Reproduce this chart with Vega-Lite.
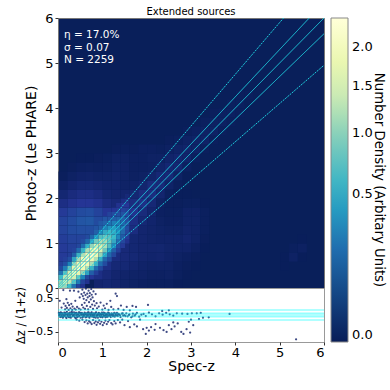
{"$schema":"https://vega.github.io/schema/vega-lite/v6.json","padding":{"left":14,"top":6,"right":0,"bottom":0},"background":"white","bounds":"flush","spacing":0,"config":{"font":"DejaVu Sans","view":{"stroke":null}},
"datasets":{
"coarse":[
{"x":0.9,"y":0.1,"d":0.005},{"x":1.1,"y":0.1,"d":0.007},{"x":1.3,"y":0.1,"d":0.005},{"x":1.5,"y":0.1,"d":0.0025},{"x":1.7,"y":0.1,"d":0.0015},{"x":1.9,"y":0.1,"d":0.0008},{"x":2.1,"y":0.1,"d":0.0005},{"x":2.3,"y":0.1,"d":0.0005},{"x":2.5,"y":0.1,"d":0.0005},{"x":2.7,"y":0.1,"d":0.0001},
{"x":0.9,"y":0.3,"d":0.02},{"x":1.1,"y":0.3,"d":0.011},{"x":1.3,"y":0.3,"d":0.005},{"x":1.5,"y":0.3,"d":0.0035},{"x":1.7,"y":0.3,"d":0.0025},{"x":1.9,"y":0.3,"d":0.002},{"x":2.1,"y":0.3,"d":0.001},{"x":2.3,"y":0.3,"d":0.001},{"x":2.5,"y":0.3,"d":0.0015},{"x":2.7,"y":0.3,"d":0.0005},{"x":2.9,"y":0.3,"d":0.0001},
{"x":0.9,"y":0.5,"d":0.06},{"x":1.1,"y":0.5,"d":0.02},{"x":1.3,"y":0.5,"d":0.009},{"x":1.5,"y":0.5,"d":0.008},{"x":1.7,"y":0.5,"d":0.005},{"x":1.9,"y":0.5,"d":0.003},{"x":2.1,"y":0.5,"d":0.002},{"x":2.3,"y":0.5,"d":0.0025},{"x":2.5,"y":0.5,"d":0.0025},{"x":2.7,"y":0.5,"d":0.0008},{"x":2.9,"y":0.5,"d":0.0003},{"x":3.1,"y":0.5,"d":0.0001},
{"x":0.1,"y":0.7,"d":0.05},{"x":1.1,"y":0.7,"d":0.06},{"x":1.3,"y":0.7,"d":0.016},{"x":1.5,"y":0.7,"d":0.011},{"x":1.7,"y":0.7,"d":0.008},{"x":1.9,"y":0.7,"d":0.005},{"x":2.1,"y":0.7,"d":0.004},{"x":2.3,"y":0.7,"d":0.005},{"x":2.5,"y":0.7,"d":0.003},{"x":2.7,"y":0.7,"d":0.0015},{"x":2.9,"y":0.7,"d":0.0008},{"x":3.1,"y":0.7,"d":0.0003},
{"x":0.1,"y":0.9,"d":0.05},{"x":0.3,"y":0.9,"d":0.06},{"x":1.3,"y":0.9,"d":0.04},{"x":1.5,"y":0.9,"d":0.011},{"x":1.7,"y":0.9,"d":0.007},{"x":1.9,"y":0.9,"d":0.005},{"x":2.1,"y":0.9,"d":0.005},{"x":2.3,"y":0.9,"d":0.0055},{"x":2.5,"y":0.9,"d":0.0035},{"x":2.7,"y":0.9,"d":0.003},{"x":2.9,"y":0.9,"d":0.003},{"x":3.1,"y":0.9,"d":0.001},{"x":3.3,"y":0.9,"d":0.0001},
{"x":0.1,"y":1.1,"d":0.055},{"x":0.3,"y":1.1,"d":0.07},{"x":0.5,"y":1.1,"d":0.07},{"x":1.5,"y":1.1,"d":0.02},{"x":1.7,"y":1.1,"d":0.007},{"x":1.9,"y":1.1,"d":0.005},{"x":2.1,"y":1.1,"d":0.0035},{"x":2.3,"y":1.1,"d":0.003},{"x":2.5,"y":1.1,"d":0.003},{"x":2.7,"y":1.1,"d":0.003},{"x":2.9,"y":1.1,"d":0.005},{"x":3.1,"y":1.1,"d":0.0025},{"x":3.3,"y":1.1,"d":0.0003},
{"x":0.1,"y":1.3,"d":0.07},{"x":0.3,"y":1.3,"d":0.09},{"x":0.5,"y":1.3,"d":0.1},{"x":0.7,"y":1.3,"d":0.1},{"x":1.7,"y":1.3,"d":0.016},{"x":1.9,"y":1.3,"d":0.005},{"x":2.1,"y":1.3,"d":0.0035},{"x":2.3,"y":1.3,"d":0.0025},{"x":2.5,"y":1.3,"d":0.0015},{"x":2.7,"y":1.3,"d":0.0015},{"x":2.9,"y":1.3,"d":0.0035},{"x":3.1,"y":1.3,"d":0.0025},{"x":3.3,"y":1.3,"d":0.0005},
{"x":0.1,"y":1.5,"d":0.07},{"x":0.3,"y":1.5,"d":0.09},{"x":0.5,"y":1.5,"d":0.12},{"x":0.7,"y":1.5,"d":0.13},{"x":0.9,"y":1.5,"d":0.09},{"x":1.7,"y":1.5,"d":0.02},{"x":1.9,"y":1.5,"d":0.008},{"x":2.1,"y":1.5,"d":0.004},{"x":2.3,"y":1.5,"d":0.0015},{"x":2.5,"y":1.5,"d":0.0008},{"x":2.7,"y":1.5,"d":0.0008},{"x":2.9,"y":1.5,"d":0.0025},{"x":3.1,"y":1.5,"d":0.0025},{"x":3.3,"y":1.5,"d":0.0005},
{"x":0.1,"y":1.7,"d":0.05},{"x":0.3,"y":1.7,"d":0.07},{"x":0.5,"y":1.7,"d":0.09},{"x":0.7,"y":1.7,"d":0.1},{"x":0.9,"y":1.7,"d":0.07},{"x":1.1,"y":1.7,"d":0.04},{"x":1.7,"y":1.7,"d":0.03},{"x":1.9,"y":1.7,"d":0.013},{"x":2.1,"y":1.7,"d":0.005},{"x":2.3,"y":1.7,"d":0.0008},{"x":2.5,"y":1.7,"d":0.0005},{"x":2.7,"y":1.7,"d":0.0005},{"x":2.9,"y":1.7,"d":0.002},{"x":3.1,"y":1.7,"d":0.002},{"x":3.3,"y":1.7,"d":0.0005},
{"x":0.1,"y":1.9,"d":0.02},{"x":0.3,"y":1.9,"d":0.03},{"x":0.5,"y":1.9,"d":0.04},{"x":0.7,"y":1.9,"d":0.04},{"x":0.9,"y":1.9,"d":0.03},{"x":1.1,"y":1.9,"d":0.016},{"x":1.3,"y":1.9,"d":0.011},{"x":1.7,"y":1.9,"d":0.016},{"x":1.9,"y":1.9,"d":0.022},{"x":2.1,"y":1.9,"d":0.009},{"x":2.3,"y":1.9,"d":0.0015},{"x":2.5,"y":1.9,"d":0.0003},{"x":2.7,"y":1.9,"d":0.0003},{"x":2.9,"y":1.9,"d":0.0005},{"x":3.1,"y":1.9,"d":0.0005},{"x":3.3,"y":1.9,"d":0.0001},
{"x":0.1,"y":2.1,"d":0.007},{"x":0.3,"y":2.1,"d":0.014},{"x":0.5,"y":2.1,"d":0.02},{"x":0.7,"y":2.1,"d":0.02},{"x":0.9,"y":2.1,"d":0.014},{"x":1.1,"y":2.1,"d":0.007},{"x":1.3,"y":2.1,"d":0.005},{"x":1.5,"y":2.1,"d":0.005},{"x":1.7,"y":2.1,"d":0.007},{"x":1.9,"y":2.1,"d":0.016},{"x":2.1,"y":2.1,"d":0.016},{"x":2.3,"y":2.1,"d":0.005},{"x":2.5,"y":2.1,"d":0.0005},{"x":2.7,"y":2.1,"d":0.0001},{"x":2.9,"y":2.1,"d":0.0001},
{"x":0.1,"y":2.3,"d":0.002},{"x":0.3,"y":2.3,"d":0.005},{"x":0.5,"y":2.3,"d":0.008},{"x":0.7,"y":2.3,"d":0.008},{"x":0.9,"y":2.3,"d":0.006},{"x":1.1,"y":2.3,"d":0.004},{"x":1.3,"y":2.3,"d":0.004},{"x":1.5,"y":2.3,"d":0.0025},{"x":1.7,"y":2.3,"d":0.0025},{"x":1.9,"y":2.3,"d":0.005},{"x":2.1,"y":2.3,"d":0.013},{"x":2.3,"y":2.3,"d":0.011},{"x":2.5,"y":2.3,"d":0.0025},{"x":2.7,"y":2.3,"d":0.0003},
{"x":0.1,"y":2.5,"d":0.0003},{"x":0.3,"y":2.5,"d":0.0015},{"x":0.5,"y":2.5,"d":0.003},{"x":0.7,"y":2.5,"d":0.0035},{"x":0.9,"y":2.5,"d":0.0025},{"x":1.1,"y":2.5,"d":0.0025},{"x":1.3,"y":2.5,"d":0.0035},{"x":1.5,"y":2.5,"d":0.0025},{"x":1.7,"y":2.5,"d":0.001},{"x":1.9,"y":2.5,"d":0.0015},{"x":2.1,"y":2.5,"d":0.0035},{"x":2.3,"y":2.5,"d":0.009},{"x":2.5,"y":2.5,"d":0.009},{"x":2.7,"y":2.5,"d":0.0015},{"x":2.9,"y":2.5,"d":0.0001},
{"x":0.3,"y":2.7,"d":0.0003},{"x":0.5,"y":2.7,"d":0.0008},{"x":0.7,"y":2.7,"d":0.001},{"x":0.9,"y":2.7,"d":0.0008},{"x":1.1,"y":2.7,"d":0.001},{"x":1.3,"y":2.7,"d":0.0025},{"x":1.5,"y":2.7,"d":0.002},{"x":1.7,"y":2.7,"d":0.0008},{"x":1.9,"y":2.7,"d":0.0008},{"x":2.1,"y":2.7,"d":0.001},{"x":2.3,"y":2.7,"d":0.0035},{"x":2.5,"y":2.7,"d":0.007},{"x":2.7,"y":2.7,"d":0.006},{"x":2.9,"y":2.7,"d":0.0008},
{"x":0.5,"y":2.9,"d":0.0001},{"x":0.7,"y":2.9,"d":0.0001},{"x":0.9,"y":2.9,"d":0.0003},{"x":1.1,"y":2.9,"d":0.0005},{"x":1.3,"y":2.9,"d":0.0015},{"x":1.5,"y":2.9,"d":0.0015},{"x":1.7,"y":2.9,"d":0.0008},{"x":1.9,"y":2.9,"d":0.0008},{"x":2.1,"y":2.9,"d":0.0015},{"x":2.3,"y":2.9,"d":0.0015},{"x":2.5,"y":2.9,"d":0.0035},{"x":2.7,"y":2.9,"d":0.005},{"x":2.9,"y":2.9,"d":0.0035},{"x":3.1,"y":2.9,"d":0.0005},
{"x":1.3,"y":3.1,"d":0.0003},{"x":1.5,"y":3.1,"d":0.0005},{"x":1.7,"y":3.1,"d":0.0003},{"x":1.9,"y":3.1,"d":0.0008},{"x":2.1,"y":3.1,"d":0.0008},{"x":2.3,"y":3.1,"d":0.0005},{"x":2.5,"y":3.1,"d":0.001},{"x":2.7,"y":3.1,"d":0.0025},{"x":2.9,"y":3.1,"d":0.0035},{"x":3.1,"y":3.1,"d":0.0025},{"x":3.3,"y":3.1,"d":0.0003},
{"x":2.5,"y":3.3,"d":0.0003},{"x":2.7,"y":3.3,"d":0.0005},{"x":2.9,"y":3.3,"d":0.0015},{"x":3.1,"y":3.3,"d":0.0025},{"x":3.3,"y":3.3,"d":0.002},{"x":3.5,"y":3.3,"d":0.0003},
{"x":2.9,"y":3.5,"d":0.0003},{"x":3.1,"y":3.5,"d":0.0008},{"x":3.3,"y":3.5,"d":0.0015},{"x":3.5,"y":3.5,"d":0.0015},{"x":3.7,"y":3.5,"d":0.0003},
{"x":3.3,"y":3.7,"d":0.0005},{"x":3.5,"y":3.7,"d":0.001},{"x":3.7,"y":3.7,"d":0.001},{"x":3.9,"y":3.7,"d":0.0003},
{"x":3.5,"y":3.9,"d":0.0003},{"x":3.7,"y":3.9,"d":0.0008},{"x":3.9,"y":3.9,"d":0.0008},{"x":4.1,"y":3.9,"d":0.0003},{"x":3.9,"y":4.1,"d":0.0005},{"x":4.1,"y":4.1,"d":0.0005},{"x":4.1,"y":4.3,"d":0.0003},{"x":4.3,"y":4.3,"d":0.0003},
{"x":5.1,"y":0.5,"d":0.0001},{"x":5.1,"y":0.7,"d":0.0001},{"x":5.3,"y":0.7,"d":0.0015},{"x":5.5,"y":0.7,"d":0.0001},{"x":5.3,"y":0.9,"d":0.0005},{"x":5.5,"y":0.9,"d":0.001},{"x":5.5,"y":1.1,"d":0.0001}
],
"fine":[
{"x":0.05,"y":0.05,"d":1.2},{"x":0.05,"y":0.15,"d":1.08},{"x":0.05,"y":0.25,"d":0.62},{"x":0.05,"y":0.35,"d":0.22},{"x":0.05,"y":0.45,"d":0.09},{"x":0.05,"y":0.55,"d":0.06},
{"x":0.15,"y":0.05,"d":1.08},{"x":0.15,"y":0.15,"d":1.5},{"x":0.15,"y":0.25,"d":1.3},{"x":0.15,"y":0.35,"d":0.74},{"x":0.15,"y":0.45,"d":0.26},{"x":0.15,"y":0.55,"d":0.1},{"x":0.15,"y":0.65,"d":0.06},
{"x":0.25,"y":0.05,"d":0.62},{"x":0.25,"y":0.15,"d":1.3},{"x":0.25,"y":0.25,"d":1.8},{"x":0.25,"y":0.35,"d":1.5},{"x":0.25,"y":0.45,"d":0.82},{"x":0.25,"y":0.55,"d":0.28},{"x":0.25,"y":0.65,"d":0.1},{"x":0.25,"y":0.75,"d":0.06},
{"x":0.35,"y":0.05,"d":0.22},{"x":0.35,"y":0.15,"d":0.74},{"x":0.35,"y":0.25,"d":1.5},{"x":0.35,"y":0.35,"d":2.0},{"x":0.35,"y":0.45,"d":1.72},{"x":0.35,"y":0.55,"d":1.07},{"x":0.35,"y":0.65,"d":0.46},{"x":0.35,"y":0.75,"d":0.15},{"x":0.35,"y":0.85,"d":0.07},
{"x":0.45,"y":0.05,"d":0.07},{"x":0.45,"y":0.15,"d":0.26},{"x":0.45,"y":0.25,"d":0.82},{"x":0.45,"y":0.35,"d":1.72},{"x":0.45,"y":0.45,"d":2.15},{"x":0.45,"y":0.55,"d":1.9},{"x":0.45,"y":0.65,"d":1.19},{"x":0.45,"y":0.75,"d":0.56},{"x":0.45,"y":0.85,"d":0.19},{"x":0.45,"y":0.95,"d":0.08},
{"x":0.55,"y":0.05,"d":0.03},{"x":0.55,"y":0.15,"d":0.07},{"x":0.55,"y":0.25,"d":0.28},{"x":0.55,"y":0.35,"d":1.07},{"x":0.55,"y":0.45,"d":1.9},{"x":0.55,"y":0.55,"d":2.2},{"x":0.55,"y":0.65,"d":1.92},{"x":0.55,"y":0.75,"d":1.2},{"x":0.55,"y":0.85,"d":0.56},{"x":0.55,"y":0.95,"d":0.2},{"x":0.55,"y":1.05,"d":0.09},
{"x":0.65,"y":0.15,"d":0.03},{"x":0.65,"y":0.25,"d":0.08},{"x":0.65,"y":0.35,"d":0.46},{"x":0.65,"y":0.45,"d":1.19},{"x":0.65,"y":0.55,"d":1.92},{"x":0.65,"y":0.65,"d":2.25},{"x":0.65,"y":0.75,"d":1.93},{"x":0.65,"y":0.85,"d":1.2},{"x":0.65,"y":0.95,"d":0.53},{"x":0.65,"y":1.05,"d":0.18},{"x":0.65,"y":1.15,"d":0.09},
{"x":0.75,"y":0.25,"d":0.04},{"x":0.75,"y":0.35,"d":0.15},{"x":0.75,"y":0.45,"d":0.56},{"x":0.75,"y":0.55,"d":1.2},{"x":0.75,"y":0.65,"d":1.93},{"x":0.75,"y":0.75,"d":2.25},{"x":0.75,"y":0.85,"d":1.85},{"x":0.75,"y":0.95,"d":1.05},{"x":0.75,"y":1.05,"d":0.45},{"x":0.75,"y":1.15,"d":0.18},{"x":0.75,"y":1.25,"d":0.1},
{"x":0.85,"y":0.35,"d":0.06},{"x":0.85,"y":0.45,"d":0.19},{"x":0.85,"y":0.55,"d":0.56},{"x":0.85,"y":0.65,"d":1.2},{"x":0.85,"y":0.75,"d":1.85},{"x":0.85,"y":0.85,"d":2.05},{"x":0.85,"y":0.95,"d":1.55},{"x":0.85,"y":1.05,"d":0.85},{"x":0.85,"y":1.15,"d":0.38},{"x":0.85,"y":1.25,"d":0.16},{"x":0.85,"y":1.35,"d":0.12},
{"x":0.95,"y":0.45,"d":0.08},{"x":0.95,"y":0.55,"d":0.2},{"x":0.95,"y":0.65,"d":0.53},{"x":0.95,"y":0.75,"d":1.05},{"x":0.95,"y":0.85,"d":1.55},{"x":0.95,"y":0.95,"d":1.6},{"x":0.95,"y":1.05,"d":1.2},{"x":0.95,"y":1.15,"d":0.7},{"x":0.95,"y":1.25,"d":0.32},{"x":0.95,"y":1.35,"d":0.16},{"x":0.95,"y":1.45,"d":0.13},
{"x":1.05,"y":0.55,"d":0.09},{"x":1.05,"y":0.65,"d":0.18},{"x":1.05,"y":0.75,"d":0.45},{"x":1.05,"y":0.85,"d":0.85},{"x":1.05,"y":0.95,"d":1.2},{"x":1.05,"y":1.05,"d":1.15},{"x":1.05,"y":1.15,"d":0.86},{"x":1.05,"y":1.25,"d":0.5},{"x":1.05,"y":1.35,"d":0.27},{"x":1.05,"y":1.45,"d":0.16},{"x":1.05,"y":1.55,"d":0.12},
{"x":1.15,"y":0.65,"d":0.09},{"x":1.15,"y":0.75,"d":0.18},{"x":1.15,"y":0.85,"d":0.38},{"x":1.15,"y":0.95,"d":0.7},{"x":1.15,"y":1.05,"d":0.86},{"x":1.15,"y":1.15,"d":0.8},{"x":1.15,"y":1.25,"d":0.6},{"x":1.15,"y":1.35,"d":0.37},{"x":1.15,"y":1.45,"d":0.21},{"x":1.15,"y":1.55,"d":0.11},{"x":1.15,"y":1.65,"d":0.07},
{"x":1.25,"y":0.75,"d":0.08},{"x":1.25,"y":0.85,"d":0.16},{"x":1.25,"y":0.95,"d":0.32},{"x":1.25,"y":1.05,"d":0.5},{"x":1.25,"y":1.15,"d":0.6},{"x":1.25,"y":1.25,"d":0.5},{"x":1.25,"y":1.35,"d":0.4},{"x":1.25,"y":1.45,"d":0.26},{"x":1.25,"y":1.55,"d":0.15},{"x":1.25,"y":1.65,"d":0.09},{"x":1.25,"y":1.75,"d":0.04},
{"x":1.35,"y":0.85,"d":0.06},{"x":1.35,"y":0.95,"d":0.1},{"x":1.35,"y":1.05,"d":0.2},{"x":1.35,"y":1.15,"d":0.3},{"x":1.35,"y":1.25,"d":0.34},{"x":1.35,"y":1.35,"d":0.3},{"x":1.35,"y":1.45,"d":0.25},{"x":1.35,"y":1.55,"d":0.17},{"x":1.35,"y":1.65,"d":0.1},{"x":1.35,"y":1.75,"d":0.06},{"x":1.35,"y":1.85,"d":0.03},
{"x":1.45,"y":0.95,"d":0.05},{"x":1.45,"y":1.05,"d":0.08},{"x":1.45,"y":1.15,"d":0.13},{"x":1.45,"y":1.25,"d":0.18},{"x":1.45,"y":1.35,"d":0.2},{"x":1.45,"y":1.45,"d":0.18},{"x":1.45,"y":1.55,"d":0.16},{"x":1.45,"y":1.65,"d":0.11},{"x":1.45,"y":1.75,"d":0.07},{"x":1.45,"y":1.85,"d":0.04},{"x":1.45,"y":1.95,"d":0.02},
{"x":1.55,"y":1.05,"d":0.03},{"x":1.55,"y":1.15,"d":0.05},{"x":1.55,"y":1.25,"d":0.08},{"x":1.55,"y":1.35,"d":0.1},{"x":1.55,"y":1.45,"d":0.11},{"x":1.55,"y":1.55,"d":0.1},{"x":1.55,"y":1.65,"d":0.085},{"x":1.55,"y":1.75,"d":0.06},{"x":1.55,"y":1.85,"d":0.04},{"x":1.55,"y":1.95,"d":0.025},{"x":1.55,"y":2.05,"d":0.01}
],
"lines":[
{"k":"c","t":"s","a":0,"b":0},{"k":"c","t":"s","a":6,"b":6},
{"k":"u1","t":"s","a":0,"b":0.05},{"k":"u1","t":"s","a":5.667,"b":6},
{"k":"l1","t":"s","a":0,"b":-0.05},{"k":"l1","t":"s","a":6,"b":5.65},
{"k":"u2","t":"d","a":0,"b":0.15},{"k":"u2","t":"d","a":5.087,"b":6},
{"k":"l2","t":"d","a":0,"b":-0.15},{"k":"l2","t":"d","a":6,"b":4.95}
],
"stats":[{"a":0.135,"b":5.62,"label":"η = 17.0%"},{"a":0.135,"b":5.34,"label":"σ = 0.07"},{"a":0.135,"b":5.07,"label":"N = 2259"}],
"bands":[{"k":"a","a":0,"r":0.15},{"k":"a","a":6,"r":0.15},{"k":"b","a":0,"r":0.05},{"k":"b","a":6,"r":0.05},{"k":"c","a":0,"r":0},{"k":"c","a":6,"r":0},{"k":"d","a":0,"r":-0.05},{"k":"d","a":6,"r":-0.05},{"k":"e","a":0,"r":-0.15},{"k":"e","a":6,"r":-0.15}],
"resid":[
{"z":0.02,"r":0.06},{"z":0.03,"r":-0.02},{"z":0.04,"r":0.03},{"z":0.05,"r":-0.06},{"z":0.06,"r":0.08},{"z":0.07,"r":0.0},{"z":0.09,"r":-0.04},{"z":0.1,"r":0.05},{"z":0.11,"r":-0.08},{"z":0.13,"r":0.02},{"z":0.14,"r":0.07},{"z":0.15,"r":-0.03},{"z":0.17,"r":0.04},{"z":0.18,"r":-0.06},{"z":0.2,"r":0.09},{"z":0.21,"r":0.0},{"z":0.23,"r":-0.05},{"z":0.24,"r":0.05},{"z":0.26,"r":-0.02},{"z":0.27,"r":0.07},{"z":0.29,"r":-0.08},{"z":0.3,"r":0.02},{"z":0.32,"r":0.06},{"z":0.33,"r":-0.04},{"z":0.35,"r":0.01},{"z":0.36,"r":0.08},{"z":0.38,"r":-0.07},{"z":0.39,"r":0.04},{"z":0.41,"r":-0.01},{"z":0.42,"r":0.06},{"z":0.44,"r":-0.05},{"z":0.45,"r":0.02},{"z":0.47,"r":0.08},{"z":0.48,"r":-0.03},{"z":0.5,"r":0.05},{"z":0.51,"r":-0.08},{"z":0.53,"r":0.0},{"z":0.54,"r":0.06},{"z":0.56,"r":-0.05},{"z":0.57,"r":0.03},{"z":0.59,"r":-0.02},{"z":0.6,"r":0.07},{"z":0.62,"r":-0.07},{"z":0.63,"r":0.02},{"z":0.65,"r":0.05},{"z":0.66,"r":-0.04},{"z":0.68,"r":0.0},{"z":0.69,"r":0.08},{"z":0.71,"r":-0.08},{"z":0.72,"r":0.03},{"z":0.74,"r":-0.02},{"z":0.75,"r":0.06},{"z":0.77,"r":-0.05},{"z":0.78,"r":0.01},{"z":0.8,"r":0.05},{"z":0.81,"r":-0.07},{"z":0.83,"r":-0.01},{"z":0.84,"r":0.04},{"z":0.86,"r":0.08},{"z":0.87,"r":-0.04},{"z":0.89,"r":0.02},{"z":0.9,"r":-0.08},{"z":0.92,"r":0.06},{"z":0.93,"r":-0.02},{"z":0.95,"r":0.03},{"z":0.96,"r":-0.06},{"z":0.98,"r":0.0},{"z":0.99,"r":0.07},{"z":1.01,"r":-0.05},{"z":1.02,"r":0.02},{"z":1.04,"r":-0.03},{"z":1.05,"r":0.05},{"z":1.07,"r":-0.07},{"z":1.08,"r":0.0},{"z":1.1,"r":0.04},{"z":1.11,"r":-0.04},{"z":1.13,"r":0.07},{"z":1.15,"r":-0.02},{"z":1.17,"r":0.02},{"z":1.19,"r":-0.06},{"z":1.21,"r":0.05},{"z":1.23,"r":-0.01},{"z":1.25,"r":0.03},{"z":1.28,"r":-0.05},{"z":1.3,"r":0.01},{"z":1.33,"r":0.06},{"z":1.35,"r":-0.03},{"z":1.38,"r":0.02},{"z":1.41,"r":-0.06},{"z":1.44,"r":0.04},{"z":1.47,"r":-0.02},{"z":1.5,"r":0.0},{"z":1.54,"r":0.05},{"z":1.57,"r":-0.04},{"z":1.61,"r":0.02},{"z":1.65,"r":-0.07},{"z":1.69,"r":0.04},{"z":1.73,"r":-0.02},{"z":1.78,"r":0.06},{"z":1.83,"r":-0.05},{"z":1.88,"r":0.01},{"z":1.93,"r":0.03},{"z":1.98,"r":-0.03},{"z":2.05,"r":0.07},{"z":2.12,"r":0.02},{"z":2.2,"r":-0.04},{"z":2.28,"r":0.05},{"z":2.36,"r":0.01},{"z":2.44,"r":0.06},{"z":2.52,"r":0.02},{"z":2.6,"r":-0.02},{"z":2.68,"r":0.05},{"z":2.8,"r":0.04},{"z":2.92,"r":0.03},{"z":3.02,"r":0.05},{"z":3.13,"r":0.05},{"z":3.22,"r":0.06},{"z":3.18,"r":-0.12},{"z":3.27,"r":-0.08},{"z":3.4,"r":-0.07},{"z":3.87,"r":0.03},{"z":5.37,"r":-0.72},
{"z":0.03,"r":0.01},{"z":0.08,"r":0.06},{"z":0.12,"r":-0.05},{"z":0.16,"r":0.0},{"z":0.19,"r":-0.09},{"z":0.22,"r":0.03},{"z":0.25,"r":-0.07},{"z":0.28,"r":0.01},{"z":0.31,"r":0.09},{"z":0.34,"r":-0.02},{"z":0.37,"r":0.03},{"z":0.4,"r":-0.09},{"z":0.43,"r":0.01},{"z":0.46,"r":-0.04},{"z":0.49,"r":0.07},{"z":0.52,"r":0.03},{"z":0.55,"r":-0.07},{"z":0.58,"r":0.01},{"z":0.61,"r":0.05},{"z":0.64,"r":-0.02},{"z":0.67,"r":0.07},{"z":0.7,"r":-0.05},{"z":0.73,"r":0.01},{"z":0.76,"r":0.08},{"z":0.79,"r":-0.03},{"z":0.82,"r":0.03},{"z":0.85,"r":-0.08},{"z":0.88,"r":0.0},{"z":0.91,"r":0.05},{"z":0.94,"r":-0.04},{"z":0.97,"r":0.02},{"z":1.0,"r":-0.07},{"z":1.03,"r":0.07},{"z":1.06,"r":-0.02},{"z":1.09,"r":0.02},{"z":1.12,"r":-0.05},{"z":1.16,"r":0.04},{"z":1.2,"r":0.0},{"z":1.24,"r":-0.04},{"z":1.27,"r":0.06},{"z":1.31,"r":-0.02},{"z":1.36,"r":0.03},{"z":1.4,"r":-0.01},{"z":1.46,"r":0.05},{"z":1.52,"r":-0.03},{"z":1.6,"r":0.0},{"z":1.68,"r":-0.04},{"z":1.75,"r":0.02},
{"z":0.04,"r":0.05},{"z":0.07,"r":-0.05},{"z":0.1,"r":0.01},{"z":0.13,"r":-0.03},{"z":0.16,"r":0.06},{"z":0.19,"r":0.02},{"z":0.22,"r":-0.03},{"z":0.25,"r":0.03},{"z":0.28,"r":-0.05},{"z":0.31,"r":0.04},{"z":0.34,"r":0.0},{"z":0.37,"r":-0.03},{"z":0.4,"r":0.06},{"z":0.43,"r":-0.06},{"z":0.46,"r":0.03},{"z":0.49,"r":-0.01},{"z":0.52,"r":0.05},{"z":0.55,"r":0.01},{"z":0.58,"r":-0.04},{"z":0.61,"r":0.03},{"z":0.64,"r":-0.06},{"z":0.67,"r":0.01},{"z":0.7,"r":0.05},{"z":0.73,"r":-0.03},{"z":0.76,"r":0.03},{"z":0.79,"r":0.0},{"z":0.82,"r":-0.05},{"z":0.85,"r":0.06},{"z":0.88,"r":-0.02},{"z":0.91,"r":0.02},{"z":0.94,"r":0.04},{"z":0.97,"r":-0.04},{"z":1.0,"r":0.03},{"z":1.03,"r":-0.01},{"z":1.06,"r":0.05},{"z":1.09,"r":-0.05},{"z":1.12,"r":0.01},{"z":1.15,"r":0.05},{"z":1.18,"r":-0.03},{"z":1.22,"r":0.02},{"z":1.26,"r":-0.02},{"z":1.3,"r":0.04},{"z":1.34,"r":0.0},
{"z":0.04,"r":0.42},{"z":0.08,"r":0.22},{"z":0.12,"r":0.74},{"z":0.13,"r":0.34},{"z":0.16,"r":0.17},{"z":0.17,"r":0.27},{"z":0.19,"r":0.47},{"z":0.2,"r":0.21},{"z":0.22,"r":0.36},{"z":0.24,"r":0.15},{"z":0.25,"r":0.29},{"z":0.27,"r":0.72},{"z":0.28,"r":0.2},{"z":0.3,"r":0.33},{"z":0.32,"r":0.15},{"z":0.33,"r":0.25},{"z":0.36,"r":0.72},{"z":0.37,"r":0.19},{"z":0.39,"r":0.42},{"z":0.4,"r":0.16},{"z":0.43,"r":0.24},{"z":0.46,"r":0.69},{"z":0.47,"r":0.19},{"z":0.49,"r":0.52},{"z":0.51,"r":0.16},{"z":0.53,"r":0.62},{"z":0.54,"r":0.3},{"z":0.55,"r":0.75},{"z":0.56,"r":0.56},{"z":0.57,"r":0.22},{"z":0.58,"r":0.48},{"z":0.59,"r":0.66},{"z":0.6,"r":0.36},{"z":0.61,"r":0.18},{"z":0.62,"r":0.59},{"z":0.63,"r":0.78},{"z":0.64,"r":0.44},{"z":0.65,"r":0.27},{"z":0.66,"r":0.63},{"z":0.67,"r":0.52},{"z":0.68,"r":0.17},{"z":0.69,"r":0.72},{"z":0.7,"r":0.38},{"z":0.71,"r":0.56},{"z":0.72,"r":0.65},{"z":0.73,"r":0.24},{"z":0.74,"r":0.46},{"z":0.75,"r":0.77},{"z":0.76,"r":0.6},{"z":0.77,"r":0.31},{"z":0.78,"r":0.52},{"z":0.79,"r":0.18},{"z":0.8,"r":0.7},{"z":0.81,"r":0.41},{"z":0.83,"r":0.28},{"z":0.85,"r":0.62},{"z":0.87,"r":0.35},{"z":0.88,"r":0.2},{"z":0.92,"r":0.25},{"z":0.96,"r":0.37},{"z":1.0,"r":0.16},{"z":1.03,"r":0.28},{"z":1.06,"r":0.2},{"z":1.1,"r":0.33},{"z":1.14,"r":0.15},{"z":1.18,"r":0.42},{"z":1.2,"r":0.24},{"z":1.25,"r":0.17},{"z":1.3,"r":0.63},{"z":1.33,"r":0.56},{"z":1.36,"r":0.18},{"z":1.42,"r":0.28},{"z":1.48,"r":0.15},{"z":1.55,"r":0.24},{"z":1.62,"r":0.14},{"z":1.68,"r":0.27},{"z":1.76,"r":0.24},{"z":2.03,"r":0.3},{"z":2.35,"r":0.12},{"z":2.5,"r":0.14},
{"z":0.42,"r":-0.14},{"z":0.48,"r":-0.17},{"z":0.55,"r":-0.14},{"z":0.6,"r":-0.21},{"z":0.64,"r":-0.16},{"z":0.67,"r":-0.25},{"z":0.7,"r":-0.18},{"z":0.73,"r":-0.22},{"z":0.76,"r":-0.27},{"z":0.79,"r":-0.15},{"z":0.82,"r":-0.24},{"z":0.85,"r":-0.19},{"z":0.87,"r":-0.29},{"z":0.9,"r":-0.22},{"z":0.93,"r":-0.16},{"z":0.95,"r":-0.26},{"z":0.98,"r":-0.2},{"z":1.01,"r":-0.3},{"z":1.04,"r":-0.23},{"z":1.07,"r":-0.17},{"z":1.1,"r":-0.27},{"z":1.13,"r":-0.2},{"z":1.16,"r":-0.15},{"z":1.2,"r":-0.24},{"z":1.23,"r":-0.28},{"z":1.27,"r":-0.18},{"z":1.3,"r":-0.25},{"z":1.35,"r":-0.15},{"z":1.4,"r":-0.22},{"z":1.45,"r":-0.14},{"z":1.5,"r":-0.3},{"z":1.58,"r":-0.18},{"z":1.62,"r":-0.36},{"z":1.72,"r":-0.28},{"z":1.78,"r":-0.34},{"z":1.85,"r":-0.14},{"z":1.92,"r":-0.42},{"z":1.98,"r":-0.56},{"z":2.0,"r":-0.38},{"z":2.05,"r":-0.46},{"z":2.1,"r":-0.36},{"z":2.18,"r":-0.44},{"z":2.2,"r":-0.27},{"z":2.3,"r":-0.38},{"z":2.38,"r":-0.45},{"z":2.45,"r":-0.5},{"z":2.5,"r":-0.3},{"z":2.56,"r":-0.42},{"z":2.6,"r":-0.22},{"z":2.63,"r":-0.34},{"z":2.7,"r":-0.25},{"z":2.78,"r":-0.5},{"z":2.83,"r":-0.56},{"z":2.9,"r":-0.42},{"z":2.95,"r":-0.2},{"z":2.98,"r":-0.52},{"z":3.0,"r":-0.14},{"z":3.05,"r":-0.3}
]
},
"vconcat":[
{"width":266,"height":270,"view":{"fill":"#091f5a","stroke":"#777777"},"title":{"text":"Extended sources","fontSize":10,"fontWeight":"normal","offset":-5,"frame":"group","color":"black"},
"layer":[
{"data":{"name":"coarse"},"mark":{"type":"rect"},"encoding":{
"x":{"field":"x","bin":{"step":0.2,"extent":[0,6]},"scale":{"domain":[0,6]},"axis":null},
"y":{"field":"y","bin":{"step":0.2,"extent":[0,6]},"scale":{"domain":[0,6]},"axis":{"title":"Photo-z (Le PHARE)","titleFontSize":14,"titleFontWeight":"normal","titleColor":"black","labelFontSize":13,"labelColor":"black","values":[0,1,2,3,4,5,6],"format":"d","domain":false,"grid":false,"tickSize":3,"tickColor":"#333333","labelPadding":2,"titlePadding":6}},
"color":{"field":"d","type":"quantitative","scale":{"type":"sqrt","domain":[0,0.0377,0.1506,0.339,0.6025,0.941,1.356,1.845,2.41],"range":["#081d58","#253494","#225ea8","#1d91c0","#41b6c4","#7fcdbb","#c7e9b4","#edf8b1","#ffffd9"],"interpolate":"rgb"},
"legend":{"orient":"none","legendX":273,"legendY":0,"title":"Number Density (Arbitary Units)","titleLimit":400,"titleOrient":"right","titleAngle":270,"titleFontSize":13.3,"titleFontWeight":"normal","titleColor":"black","titleAlign":"center","titleBaseline":"middle","titleAnchor":"middle","titlePadding":6,"gradientLength":324,"gradientThickness":17,"gradientStrokeColor":"#888888","gradientStrokeWidth":1,"labelFontSize":13,"labelColor":"black","labelOffset":4,"values":[0,0.5,1,1.5,2],"format":".1f","labelOverlap":false}}}},
{"data":{"name":"fine"},"mark":{"type":"rect"},"encoding":{
"x":{"field":"x","bin":{"step":0.1,"extent":[0,6]},"scale":{"domain":[0,6]},"axis":null},
"y":{"field":"y","bin":{"step":0.1,"extent":[0,6]},"scale":{"domain":[0,6]}},
"color":{"field":"d","type":"quantitative"}}},
{"data":{"name":"lines"},"mark":{"type":"line","clip":true,"color":"#1fd0e0","strokeWidth":1},"encoding":{
"x":{"field":"a","type":"quantitative"},"y":{"field":"b","type":"quantitative"},"detail":{"field":"k"},
"strokeDash":{"field":"t","type":"nominal","scale":{"domain":["s","d"],"range":[[1,0],[2,1]]},"legend":null}}},
{"data":{"name":"stats"},"mark":{"type":"text","align":"left","baseline":"middle","color":"white","fontSize":10.5},"encoding":{
"x":{"field":"a","type":"quantitative"},"y":{"field":"b","type":"quantitative"},"text":{"field":"label"}}}
]},
{"width":266,"height":54,"view":{"stroke":"#999999"},
"layer":[
{"data":{"name":"resid"},"mark":{"type":"circle","size":5,"color":"#1c2a6e","opacity":0.85},"encoding":{
"x":{"field":"z","type":"quantitative","scale":{"domain":[0,6]},"axis":{"title":"Spec-z","titleFontSize":14,"titleFontWeight":"normal","titleColor":"black","labelFontSize":13,"labelColor":"black","values":[0,1,2,3,4,5,6],"format":"d","domain":false,"grid":false,"tickSize":3,"tickColor":"#333333","labelPadding":1,"titlePadding":0}},
"y":{"field":"r","type":"quantitative","scale":{"domain":[-0.8,0.8]},"axis":{"title":"Δz / (1+z)","titleFontSize":11.5,"titleFontWeight":"normal","titleColor":"black","labelFontSize":11,"labelColor":"black","values":[-0.5,0,0.5],"format":".1f","domain":false,"grid":false,"tickSize":3,"tickColor":"#333333","labelPadding":2,"titlePadding":0}}}},
{"data":{"name":"bands"},"mark":{"type":"line","color":"aqua","strokeWidth":1.6,"opacity":0.42,"clip":true},"encoding":{
"x":{"field":"a","type":"quantitative"},"y":{"field":"r","type":"quantitative"},"detail":{"field":"k"}}}
]}
]}
